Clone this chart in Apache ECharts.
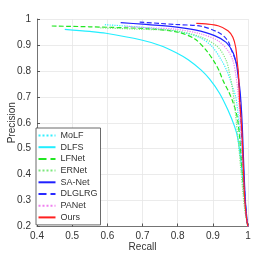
<!DOCTYPE html>
<html><head><meta charset="utf-8">
<script src="https://cdn.jsdelivr.net/npm/echarts@6/dist/echarts.min.js"></script>
<style>html,body{margin:0;padding:0;background:#fff}#c{width:274px;height:257px}</style>
</head><body><div id="c"></div>
<script>
const seriesNames = ['MoLF','DLFS','LFNet','ERNet','SA-Net','DLGLRG','PANet','Ours'];

const molfRecall = [0.593,0.70,0.80,0.86,0.896,0.925,0.94,0.953,0.965,0.972,0.977,0.982,0.987,0.992,0.997,1.0];
const molfPrec   = [0.978,0.968,0.952,0.93,0.897,0.84,0.80,0.75,0.70,0.63,0.55,0.45,0.36,0.28,0.22,0.2];

const dlfsRecall = [0.479,0.55,0.596,0.697,0.75,0.796,0.83,0.867,0.891,0.919,0.943,0.962,0.971,0.980,0.988,0.993,0.997,1.0];
const dlfsPrec   = [0.960,0.952,0.945,0.919,0.898,0.870,0.843,0.803,0.768,0.714,0.649,0.585,0.54,0.45,0.35,0.28,0.22,0.2];

const lfnetRecall = [0.442,0.55,0.65,0.721,0.801,0.849,0.882,0.905,0.918,0.93,0.945,0.957,0.969,0.976,0.981,0.986,0.991,0.996,1.0];
const lfnetPrec   = [0.973,0.970,0.966,0.962,0.949,0.923,0.878,0.833,0.80,0.76,0.72,0.68,0.624,0.547,0.46,0.37,0.29,0.23,0.2];

const ernetRecall = [0.58,0.70,0.792,0.867,0.915,0.938,0.948,0.955,0.961,0.967,0.973,0.979,0.985,0.990,0.995,1.0];
const ernetPrec   = [0.966,0.960,0.955,0.930,0.891,0.840,0.788,0.739,0.68,0.60,0.52,0.43,0.34,0.27,0.23,0.2];

const sanetRecall = [0.638,0.70,0.792,0.849,0.905,0.938,0.957,0.967,0.971,0.976,0.980,0.984,0.987,0.990,0.993,0.997,1.0];
const sanetPrec   = [0.986,0.980,0.970,0.958,0.936,0.910,0.872,0.827,0.788,0.74,0.68,0.58,0.47,0.37,0.29,0.23,0.2];

const dlglrgRecall = [0.692,0.75,0.792,0.867,0.915,0.934,0.945,0.953,0.962,0.969,0.973,0.977,0.980,0.984,0.988,0.992,0.996,1.0];
const dlglrgPrec   = [0.988,0.983,0.979,0.972,0.949,0.930,0.910,0.880,0.85,0.82,0.77,0.70,0.60,0.50,0.40,0.30,0.23,0.2];

const panetRecall = [0.65,0.72,0.792,0.867,0.915,0.943,0.957,0.965,0.971,0.975,0.978,0.982,0.986,0.990,0.994,1.0];
const panetPrec   = [0.972,0.966,0.961,0.942,0.916,0.878,0.840,0.788,0.726,0.66,0.60,0.50,0.40,0.31,0.25,0.2];

const oursRecall = [0.853,0.88,0.915,0.943,0.957,0.965,0.970,0.973,0.976,0.980,0.983,0.986,0.989,0.992,0.997,1.0];
const oursPrec   = [0.983,0.981,0.974,0.955,0.930,0.891,0.827,0.788,0.69,0.62,0.553,0.45,0.35,0.283,0.22,0.2];

const xTicks = [0.4,0.5,0.6,0.7,0.8,0.9,1];
const yTicks = [0.2,0.3,0.4,0.5,0.6,0.7,0.8,0.9,1];

const recalls = [molfRecall,dlfsRecall,lfnetRecall,ernetRecall,sanetRecall,dlglrgRecall,panetRecall,oursRecall];
const precs = [molfPrec,dlfsPrec,lfnetPrec,ernetPrec,sanetPrec,dlglrgPrec,panetPrec,oursPrec];
const colors = ['#33f0ff','#22eeff','#22e622','#7ce87c','#2020ff','#2a2aff','#f080f0','#ff2020'];
const types = ['dotted','solid','dashed','dotted','solid','dashed','dotted','solid'];

const series = seriesNames.map((n,i)=>({
  name:n, type:'line', symbol:'none', showSymbol:false, smooth:0.3,
  data: recalls[i].map((r,j)=>[r,precs[i][j]]),
  lineStyle:{color:colors[i], width:1.2, type:types[i]},
  itemStyle:{color:colors[i]},
  z: 2+i
}));

const chart = echarts.init(document.getElementById('c'), null, {renderer:'canvas'});
chart.setOption({
  animation:false,
  backgroundColor:'#fff',
  grid:{left:37, right:26, top:19, bottom:30.5, containLabel:false, outerBoundsMode:'none'},
  xAxis:{type:'value', min:xTicks[0], max:xTicks[xTicks.length-1], interval:0.1,
    name:'Recall', nameLocation:'middle', nameGap:16, nameMoveOverlap:false,
    nameTextStyle:{fontFamily:'Liberation Sans', fontSize:10, color:'#333'},
    axisLine:{show:true, onZero:false, lineStyle:{color:'#555', width:0.8}},
    axisTick:{show:true, inside:true, length:3, lineStyle:{color:'#555'}},
    axisLabel:{fontFamily:'Liberation Sans', fontSize:10, color:'#333', margin:5},
    splitLine:{show:true, lineStyle:{color:'#e6e6e6', width:0.8}}},
  yAxis:{type:'value', min:yTicks[0], max:yTicks[yTicks.length-1], interval:0.1,
    name:'Precision', nameLocation:'middle', nameGap:20, nameMoveOverlap:false,
    nameTextStyle:{fontFamily:'Liberation Sans', fontSize:10, color:'#333'},
    axisLine:{show:true, onZero:false, lineStyle:{color:'#555', width:0.8}},
    axisTick:{show:true, inside:true, length:3, lineStyle:{color:'#555'}},
    axisLabel:{fontFamily:'Liberation Sans', fontSize:10, color:'#333', margin:6},
    splitLine:{show:true, lineStyle:{color:'#e6e6e6', width:0.8}}},
  legend:{orient:'vertical', left:36, top:128, data:seriesNames,
    backgroundColor:'#fff', borderColor:'#444', borderWidth:0.8,
    padding:[3,3,3,1.5], itemWidth:17, itemHeight:8, itemGap:2.7,
    itemStyle:{opacity:0},
    textStyle:{fontFamily:'Liberation Sans', fontSize:9, color:'#333'}},
  series: series
});
</script></body></html>
